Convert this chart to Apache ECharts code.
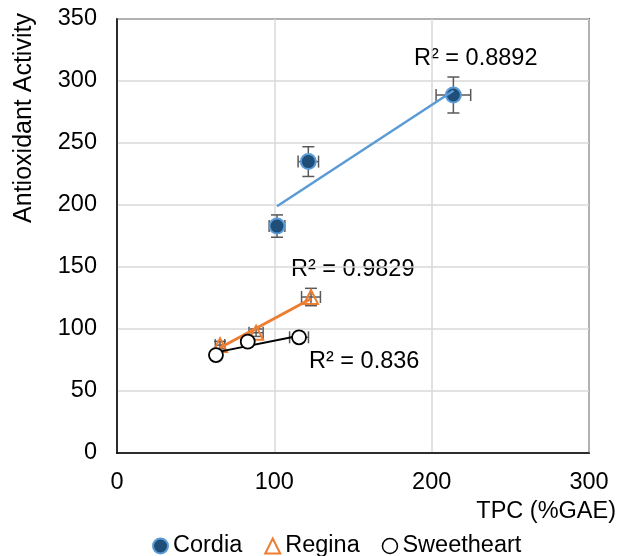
<!DOCTYPE html>
<html>
<head>
<meta charset="utf-8">
<script src="https://cdn.jsdelivr.net/npm/echarts@6/dist/echarts.min.js"></script>
<style>
html,body{margin:0;padding:0;background:#fff;}
#chart{width:619px;height:556px;}
</style>
</head>
<body>
<div id="chart"></div>
<script>
// ---- data ----
const seriesNames = ['Cordia', 'Regina', 'Sweetheart'];
const cordiaX = [101.7, 121.6, 213.8];
const cordiaY = [183, 235, 288.7];
const cordiaXErr = [5, 6.5, 11];
const cordiaYErr = [9, 12, 14.5];
const reginaX = [65.5, 88.4, 123.3];
const reginaY = [87, 97, 125.8];
const reginaXErr = [3, 4.5, 6];
const reginaYErr = [3, 3, 7];
const sweetX = [62.9, 83.1, 115.7];
const sweetY = [79, 89.8, 93.3];
const sweetXErr = [2, 3, 6];
const sweetYErr = [2, 2, 2];
const r2Labels = ['R² = 0.8892', 'R² = 0.9829', 'R² = 0.836'];
const xTicks = [0, 100, 200, 300];
const yTicks = [0, 50, 100, 150, 200, 250, 300, 350];

const FONT = '"Liberation Sans", Arial, sans-serif';
const FS = 23.5;

function pts(xs, ys) { return xs.map((x, i) => [x, ys[i]]); }
function errPts(xs, ys, ex, ey) { return xs.map((x, i) => [x, ys[i], ex[i], ey[i]]); }
function fit(xs, ys) {
  const n = xs.length;
  const mx = xs.reduce((a, b) => a + b, 0) / n;
  const my = ys.reduce((a, b) => a + b, 0) / n;
  let sxy = 0, sxx = 0;
  for (let i = 0; i < n; i++) { sxy += (xs[i] - mx) * (ys[i] - my); sxx += (xs[i] - mx) ** 2; }
  const b = sxy / sxx, a = my - b * mx;
  const x0 = Math.min(...xs), x1 = Math.max(...xs);
  return [[x0, a + b * x0], [x1, a + b * x1]];
}

function errRender(params, api) {
  const x = api.value(0), y = api.value(1), ex = api.value(2), ey = api.value(3);
  const c = api.coord([x, y]);
  const l = api.coord([x - ex, y]), r = api.coord([x + ex, y]);
  const t = api.coord([x, y + ey]), b = api.coord([x, y - ey]);
  const cap = 6;
  const st = { stroke: '#595959', lineWidth: 1.5 };
  const line = (x1, y1, x2, y2) => ({ type: 'line', shape: { x1, y1, x2, y2 }, style: st });
  return {
    type: 'group',
    children: [
      line(l[0], c[1], r[0], c[1]),
      line(l[0], c[1] - cap, l[0], c[1] + cap),
      line(r[0], c[1] - cap, r[0], c[1] + cap),
      line(c[0], t[1], c[0], b[1]),
      line(c[0] - cap, t[1], c[0] + cap, t[1]),
      line(c[0] - cap, b[1], c[0] + cap, b[1])
    ]
  };
}

const chart = echarts.init(document.getElementById('chart'), null, { renderer: 'canvas' });

const option = {
  animation: false,
  backgroundColor: '#fff',
  textStyle: { fontFamily: FONT },
  grid: {
    left: 117, right: 30, top: 19, bottom: 103,
    show: true, borderColor: '#000', borderWidth: 1.5, backgroundColor: 'transparent'
  },
  xAxis: {
    type: 'value', min: xTicks[0], max: xTicks[xTicks.length - 1], interval: 100,
    axisLine: { show: true, onZero: false, lineStyle: { color: '#000', width: 1.5 } },
    axisTick: { show: false },
    axisLabel: { color: '#000', fontSize: FS, fontFamily: FONT, margin: 18 },
    splitLine: { show: true, lineStyle: { color: '#d9d9d9', width: 1.5 } }
  },
  yAxis: {
    type: 'value', min: yTicks[0], max: yTicks[yTicks.length - 1], interval: 50,
    axisLine: { show: true, onZero: false, lineStyle: { color: '#000', width: 1.5 } },
    axisTick: { show: false },
    axisLabel: { color: '#000', fontSize: FS, fontFamily: FONT, margin: 20 },
    splitLine: { show: true, lineStyle: { color: '#d9d9d9', width: 1.5 } }
  },
  legend: {
    data: [
      { name: seriesNames[0] },
      { name: seriesNames[1] },
      { name: seriesNames[2], itemStyle: { borderWidth: 1.5 } }
    ],
    left: 152, top: 534, padding: 0,
    itemWidth: 15, itemHeight: 15, itemGap: 22,
    textStyle: { color: '#000', fontSize: FS, fontFamily: FONT }
  },
  series: [
    { type: 'custom', name: 'errC', renderItem: errRender, data: errPts(cordiaX, cordiaY, cordiaXErr, cordiaYErr), z: 2, silent: true },
    { type: 'custom', name: 'errR', renderItem: errRender, data: errPts(reginaX, reginaY, reginaXErr, reginaYErr), z: 2, silent: true },
    { type: 'custom', name: 'errS', renderItem: errRender, data: errPts(sweetX, sweetY, sweetXErr, sweetYErr), z: 2, silent: true },
    {
      type: 'scatter', name: seriesNames[0], data: pts(cordiaX, cordiaY), symbol: 'circle', symbolSize: 15, z: 3,
      itemStyle: { color: '#1F4E79', borderColor: '#5B9BD5', borderWidth: 2, opacity: 1 }
    },
    {
      type: 'scatter', name: seriesNames[1], data: pts(reginaX, reginaY), symbol: 'triangle', symbolSize: 14, z: 3,
      itemStyle: { color: 'rgba(255,255,255,0)', borderColor: '#ED7D31', borderWidth: 2, opacity: 1 }
    },
    {
      type: 'scatter', name: seriesNames[2], data: pts(sweetX, sweetY), symbol: 'circle', symbolSize: 14, z: 5,
      itemStyle: { color: '#fff', borderColor: '#000', borderWidth: 1.8, opacity: 1 }
    },
    {
      type: 'line', name: 'Cordia trend', data: fit(cordiaX, cordiaY), symbol: 'none', z: 4, silent: true,
      lineStyle: { color: '#5B9BD5', width: 2.5 }
    },
    {
      type: 'line', name: 'Regina trend', data: fit(reginaX, reginaY), symbol: 'none', z: 4, silent: true,
      lineStyle: { color: '#ED7D31', width: 3 }
    },
    {
      type: 'line', name: 'Sweetheart trend', data: fit(sweetX, sweetY), symbol: 'none', z: 4, silent: true,
      lineStyle: { color: '#000', width: 2 }
    }
  ],
  graphic: [
    { type: 'text', x: 414, y: 59, style: { text: r2Labels[0], font: FS + 'px ' + FONT, fill: '#000', align: 'left', verticalAlign: 'middle' } },
    { type: 'text', x: 291, y: 270, style: { text: r2Labels[1], font: FS + 'px ' + FONT, fill: '#000', align: 'left', verticalAlign: 'middle' } },
    { type: 'text', x: 309, y: 362, style: { text: r2Labels[2], font: FS + 'px ' + FONT, fill: '#000', align: 'left', verticalAlign: 'middle' } },
    { type: 'text', x: 616, y: 512, style: { text: 'TPC (%GAE)', font: FS + 'px ' + FONT, fill: '#000', align: 'right', verticalAlign: 'middle' } },
    { type: 'text', x: 24, y: 118, rotation: Math.PI / 2, style: { text: 'Antioxidant Activity', font: '25px ' + FONT, fill: '#000', align: 'center', verticalAlign: 'middle' } }
  ]
};
chart.setOption(option);
</script>
</body>
</html>
